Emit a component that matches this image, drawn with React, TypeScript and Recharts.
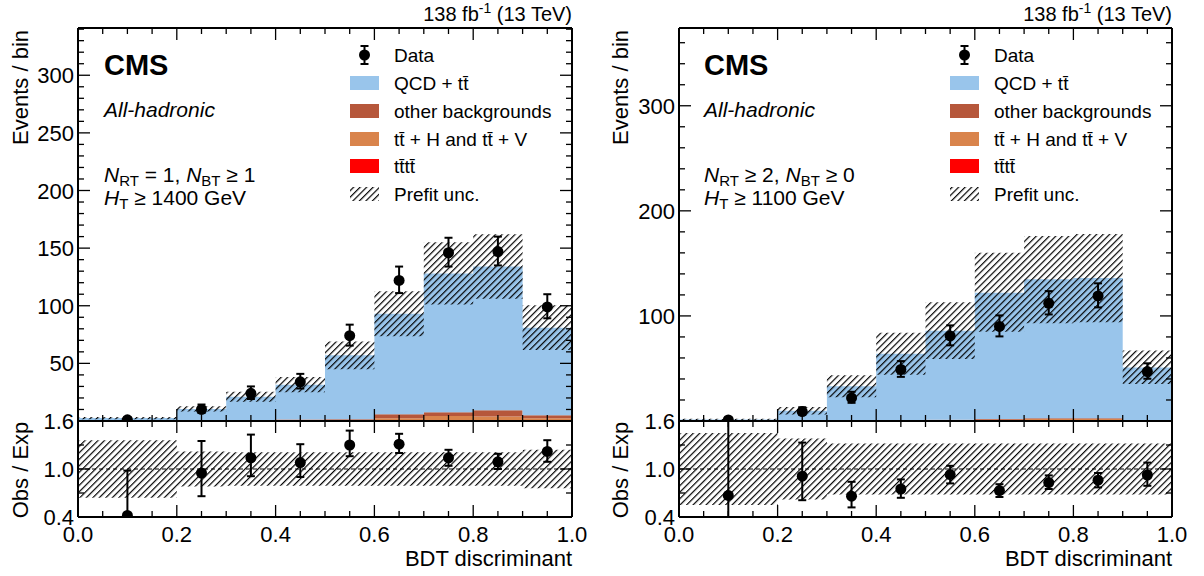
import React from 'react';
import { ComposedChart, Area, Scatter, ErrorBar, XAxis, YAxis, ReferenceLine } from 'recharts';

const FONT = '"Liberation Sans", Arial, Helvetica, sans-serif';
const C_QCD = '#99c5eb';
const C_OTHER = '#b6573b';
const C_TTHV = '#d9844c';
const C_TTTT = '#ff0000';

// ---- shared binning / ticks ----
const binEdges = [0, 0.2, 0.3, 0.4, 0.5, 0.6, 0.7, 0.8, 0.9, 1.0];
const binCenters = [0.1, 0.25, 0.35, 0.45, 0.55, 0.65, 0.75, 0.85, 0.95];
const xTicks = [0, 0.05, 0.1, 0.15, 0.2, 0.25, 0.3, 0.35, 0.4, 0.45, 0.5, 0.55, 0.6, 0.65, 0.7, 0.75, 0.8, 0.85, 0.9, 0.95, 1.0];
const xMajor = [0, 0.2, 0.4, 0.6, 0.8, 1.0];
const ratioTicks = [0.4, 0.7, 1.0, 1.3, 1.6];
const ratioMajor = [0.4, 1.0, 1.6];

// ---- left panel ----
const leftYTicks = [0, 10, 20, 30, 40, 50, 60, 70, 80, 90, 100, 110, 120, 130, 140, 150, 160, 170, 180, 190, 200, 210, 220, 230, 240, 250, 260, 270, 280, 290, 300, 310, 320, 330, 340];
const leftYMajor = [0, 50, 100, 150, 200, 250, 300];
const leftYLabels = [50, 100, 150, 200, 250, 300];
const leftYMax = 341;
const leftQcd = [2.3, 10.2, 20.4, 30.3, 55.4, 87.2, 120.5, 124.6, 76.1];
const leftOther = [0.1, 0.2, 0.3, 0.6, 0.8, 3.5, 3.2, 5.5, 2.6];
const leftTtHV = [0.1, 0.1, 0.3, 0.5, 0.6, 2.0, 4.0, 3.5, 2.0];
const leftTttt = [0, 0, 0, 0.1, 0.2, 0.3, 0.3, 0.4, 0.3];
const leftBandLo = [1.6, 8.2, 16.6, 24.9, 45.0, 73.5, 101, 106, 61.6];
const leftBandHi = [3.4, 12.8, 25.4, 38.1, 69.0, 112.5, 155, 162, 100.4];
const leftData = [1, 10, 24, 34, 74, 122, 146, 147, 99];
const leftDataErrLo = [1, 3.1, 4.9, 5.8, 8.6, 11, 12, 12, 9.9];
const leftDataErrHi = [2.3, 4.3, 6, 6.9, 9.6, 12, 13, 13, 11];
const leftRatio = [0.42, 0.95, 1.14, 1.08, 1.30, 1.31, 1.14, 1.09, 1.22];
const leftRatioLo = [0.0, 0.66, 0.91, 0.90, 1.16, 1.20, 1.04, 1.00, 1.09];
const leftRatioHi = [0.98, 1.35, 1.43, 1.31, 1.48, 1.44, 1.24, 1.19, 1.36];
const leftRatioBandLo = [0.64, 0.78, 0.79, 0.79, 0.79, 0.79, 0.79, 0.79, 0.76];
const leftRatioBandHi = [1.36, 1.22, 1.21, 1.21, 1.21, 1.21, 1.21, 1.21, 1.24];

// ---- right panel ----
const rightYTicks = [0, 20, 40, 60, 80, 100, 120, 140, 160, 180, 200, 220, 240, 260, 280, 300, 320, 340, 360];
const rightYMajor = [0, 100, 200, 300];
const rightYLabels = [100, 200, 300];
const rightYMax = 374;
const rightQcd = [1.5, 9.8, 32.8, 63.4, 84.7, 120.1, 132.4, 133.3, 50.0];
const rightOther = [0, 0, 0.1, 0.2, 0.4, 0.6, 0.8, 0.9, 0.3];
const rightTtHV = [0, 0, 0.1, 0.3, 0.7, 1.0, 1.4, 1.4, 0.5];
const rightTttt = [0, 0, 0, 0.1, 0.2, 0.3, 0.4, 0.4, 0.2];
const rightBandLo = [0.8, 6.2, 22.6, 44, 59, 85, 93, 94, 35.2];
const rightBandHi = [2.2, 13.4, 43.5, 84, 113, 160, 176, 178, 67];
const rightData = [1, 9, 22, 49, 81, 90, 112, 119, 47];
const rightDataErrLo = [1, 3, 4.7, 7, 9, 9.5, 10.6, 10.9, 6.8];
const rightDataErrHi = [2.3, 4.1, 5.8, 8, 10, 10.5, 11.6, 12, 7.9];
const rightRatio = [0.67, 0.91, 0.66, 0.75, 0.93, 0.73, 0.83, 0.86, 0.925];
const rightRatioLo = [0.0, 0.61, 0.52, 0.64, 0.82, 0.65, 0.75, 0.77, 0.79];
const rightRatioHi = [2.9, 1.33, 0.84, 0.87, 1.04, 0.81, 0.92, 0.95, 1.08];
const rightRatioBandLo = [0.55, 0.62, 0.68, 0.68, 0.68, 0.68, 0.68, 0.68, 0.68];
const rightRatioBandHi = [1.45, 1.38, 1.32, 1.32, 1.32, 1.32, 1.32, 1.32, 1.32];

// ---- layout ----
const TOP = 28;
const MAIN_H = 393;
const RATIO_H = 96;
const YW = 70;
const MT = 2;
const MR = 4;
const MB = 2;
const RMT = 14;
const RXH = 44;
const RMR = 26;
const AX = 1; // size of the "mirror" axes (top / right / main bottom)

const isIn = (arr: number[], v: number) => arr.some((a) => Math.abs(a - v) < 1e-6);

type Side = 'left' | 'right' | 'top' | 'bottom';
function tickRenderer(side: Side, majors: number[], labels: number[], fmt: (v: number) => string, margin: number) {
  return (props: any) => {
    const { x, y, payload } = props;
    const v = payload.value as number;
    const len = isIn(majors, v) ? 12 : 6;
    const show = isIn(labels, v);
    let x1 = 0, y1 = 0, x2 = 0, y2 = 0;
    let label: any = null;
    if (side === 'bottom') {
      const e = y - margin;
      x1 = x2 = x; y1 = e; y2 = e - len;
      if (show) label = <text x={x} y={e + 24.5} textAnchor="middle" fontSize={22} fontFamily={FONT} fill="#000">{fmt(v)}</text>;
    } else if (side === 'top') {
      const e = y + margin;
      x1 = x2 = x; y1 = e; y2 = e + len;
    } else if (side === 'left') {
      const e = x + margin;
      y1 = y2 = y; x1 = e; x2 = e + len;
      if (show) label = <text x={x} y={y + 8} textAnchor="end" fontSize={22} fontFamily={FONT} fill="#000">{fmt(v)}</text>;
    } else {
      const e = x - margin;
      y1 = y2 = y; x1 = e; x2 = e - len;
    }
    return (
      <g>
        <line x1={x1} y1={y1} x2={x2} y2={y2} stroke="#000" strokeWidth={1.3} />
        {label}
      </g>
    );
  };
}

const AXL = { stroke: '#000', strokeWidth: 2 };
const noLabel: number[] = [];
const fmtInt = (v: number) => String(Math.round(v));
const fmt1 = (v: number) => v.toFixed(1);

function Dot(p: any) {
  if (p.cx == null || p.cy == null) return null;
  return <circle cx={p.cx} cy={p.cy} r={5.5} fill="#000" />;
}

function Hatch({ id }: { id: string }) {
  return (
    <pattern id={id} patternUnits="userSpaceOnUse" width={4.6} height={4.6} patternTransform="rotate(45)">
      <line x1={0.6} y1={0} x2={0.6} y2={4.6} stroke="#000" strokeWidth={1.2} />
    </pattern>
  );
}

type PanelCfg = {
  id: string;
  left: number;
  pw: number;
  yMax: number;
  yTicks: number[];
  yMajor: number[];
  yLabels: number[];
  qcd: number[]; other: number[]; tthv: number[]; tttt: number[];
  bandLo: number[]; bandHi: number[];
  data: number[]; errLo: number[]; errHi: number[];
  ratio: number[]; ratioLo: number[]; ratioHi: number[];
  rbLo: number[]; rbHi: number[];
};

function Panel({ c }: { c: PanelCfg }) {
  const last = c.qcd.length - 1;
  const hist = binEdges.map((x, i) => {
    const j = Math.min(i, last);
    return { x, qcd: c.qcd[j], other: c.other[j], tthv: c.tthv[j], tttt: c.tttt[j], band: [c.bandLo[j], c.bandHi[j]] };
  });
  const points = binCenters.map((x, i) => ({ x, y: c.data[i], err: [c.errLo[i], c.errHi[i]] }));
  const rband = binEdges.map((x, i) => {
    const j = Math.min(i, last);
    return { x, band: [c.rbLo[j], c.rbHi[j]] };
  });
  const rpoints = binCenters.map((x, i) => ({
    x,
    y: c.ratio[i],
    err: [c.ratio[i] - Math.max(c.ratioLo[i], 0.4), Math.min(c.ratioHi[i], 1.6) - c.ratio[i]],
  }));
  const hid = `hatch-${c.id}`;
  const rhid = `rhatch-${c.id}`;
  return (
    <>
      <div style={{ position: 'absolute', left: c.left - YW, top: TOP - MT - AX }}>
        <ComposedChart width={YW + c.pw + AX + MR} height={MT + AX + MAIN_H + AX + MB} data={hist} margin={{ top: MT, right: MR, bottom: MB, left: 0 }}>
          <defs><Hatch id={hid} /></defs>
          <XAxis xAxisId="b" dataKey="x" type="number" domain={[0, 1]} ticks={xTicks} interval={0} orientation="bottom" height={AX} tickSize={0} tickMargin={0} tickLine={false} axisLine={AXL} tick={tickRenderer('bottom', xMajor, noLabel, fmt1, 0)} allowDataOverflow />
          <XAxis xAxisId="t" dataKey="x" type="number" domain={[0, 1]} ticks={xTicks} interval={0} orientation="top" height={AX} tickSize={0} tickMargin={0} tickLine={false} axisLine={AXL} tick={tickRenderer('top', xMajor, noLabel, fmt1, 0)} allowDataOverflow />
          <YAxis yAxisId="l" type="number" domain={[0, c.yMax]} ticks={c.yTicks} interval={0} orientation="left" width={YW} tickSize={0} tickMargin={4} tickLine={false} axisLine={AXL} tick={tickRenderer('left', c.yMajor, c.yLabels, fmtInt, 4)} allowDataOverflow />
          <YAxis yAxisId="r" type="number" domain={[0, c.yMax]} ticks={c.yTicks} interval={0} orientation="right" width={AX} tickSize={0} tickMargin={0} tickLine={false} axisLine={AXL} tick={tickRenderer('right', c.yMajor, noLabel, fmtInt, 0)} allowDataOverflow />
          <Area xAxisId="b" yAxisId="l" dataKey="tttt" stackId="s" type="stepAfter" fill={C_TTTT} fillOpacity={1} stroke="none" isAnimationActive={false} />
          <Area xAxisId="b" yAxisId="l" dataKey="tthv" stackId="s" type="stepAfter" fill={C_TTHV} fillOpacity={1} stroke="none" isAnimationActive={false} />
          <Area xAxisId="b" yAxisId="l" dataKey="other" stackId="s" type="stepAfter" fill={C_OTHER} fillOpacity={1} stroke="none" isAnimationActive={false} />
          <Area xAxisId="b" yAxisId="l" dataKey="qcd" stackId="s" type="stepAfter" fill={C_QCD} fillOpacity={1} stroke="none" isAnimationActive={false} />
          <Area xAxisId="b" yAxisId="l" dataKey="band" type="stepAfter" fill={`url(#${hid})`} fillOpacity={1} stroke="none" isAnimationActive={false} />
          <Scatter xAxisId="b" yAxisId="l" data={points} dataKey="y" shape={Dot} isAnimationActive={false}>
            <ErrorBar dataKey="err" direction="y" width={4} stroke="#000" strokeWidth={2} isAnimationActive={false} />
          </Scatter>
        </ComposedChart>
      </div>
      <div style={{ position: 'absolute', left: c.left - YW, top: TOP + MAIN_H - RMT - AX }}>
        <ComposedChart width={YW + c.pw + AX + RMR} height={RMT + AX + RATIO_H + RXH} data={rband} margin={{ top: RMT, right: RMR, bottom: 0, left: 0 }}>
          <defs><Hatch id={rhid} /></defs>
          <XAxis xAxisId="b" dataKey="x" type="number" domain={[0, 1]} ticks={xTicks} interval={0} orientation="bottom" height={RXH} tickSize={0} tickMargin={0} tickLine={false} axisLine={AXL} tick={tickRenderer('bottom', xMajor, xMajor, fmt1, 0)} allowDataOverflow />
          <XAxis xAxisId="t" dataKey="x" type="number" domain={[0, 1]} ticks={xTicks} interval={0} orientation="top" height={AX} tickSize={0} tickMargin={0} tickLine={false} axisLine={AXL} tick={tickRenderer('top', xMajor, noLabel, fmt1, 0)} allowDataOverflow />
          <YAxis yAxisId="l" type="number" domain={[0.4, 1.6]} ticks={ratioTicks} interval={0} orientation="left" width={YW} tickSize={0} tickMargin={4} tickLine={false} axisLine={AXL} tick={tickRenderer('left', ratioMajor, ratioMajor, fmt1, 4)} allowDataOverflow />
          <YAxis yAxisId="r" type="number" domain={[0.4, 1.6]} ticks={ratioTicks} interval={0} orientation="right" width={AX} tickSize={0} tickMargin={0} tickLine={false} axisLine={AXL} tick={tickRenderer('right', ratioMajor, noLabel, fmt1, 0)} allowDataOverflow />
          <Area xAxisId="b" yAxisId="l" dataKey="band" type="stepAfter" fill={`url(#${rhid})`} fillOpacity={1} stroke="none" isAnimationActive={false} />
          <ReferenceLine xAxisId="b" yAxisId="l" y={1} stroke="#000" strokeWidth={1} strokeDasharray="4 3" />
          <Scatter xAxisId="b" yAxisId="l" data={rpoints} dataKey="y" shape={Dot} isAnimationActive={false}>
            <ErrorBar dataKey="err" direction="y" width={4} stroke="#000" strokeWidth={2} isAnimationActive={false} />
          </Scatter>
        </ComposedChart>
      </div>
    </>
  );
}

const tb = 't\u0304';

function Annotations({ dx, right, nLine, htLine }: { dx: number; right: number; nLine: [string, string]; htLine: string }) {
  const lx = 350 + dx;
  const tx = 394 + dx;
  const rows = [83, 111, 139, 166];
  const cols = [C_QCD, C_OTHER, C_TTHV, C_TTTT];
  const names = [`QCD + t${tb}`, 'other backgrounds', `t${tb} + H and t${tb} + V`, `t${tb}t${tb}`];
  return (
    <g fontFamily={FONT} fill="#000">
      <text x={right} y={21} textAnchor="end" fontSize={20}>
        138 fb<tspan fontSize={14} dy={-8}>-1</tspan><tspan dy={8}> (13 TeV)</tspan>
      </text>
      <text x={104 + dx} y={75} fontSize={29} fontWeight="bold">CMS</text>
      <text x={104 + dx} y={117} fontSize={21} fontStyle="italic">All-hadronic</text>
      <text x={104 + dx} y={182} fontSize={21}>
        <tspan fontStyle="italic">N</tspan><tspan fontSize={15} dy={4}>RT</tspan><tspan dy={-4}>{` ${nLine[0]}, `}</tspan>
        <tspan fontStyle="italic">N</tspan><tspan fontSize={15} dy={4}>BT</tspan><tspan dy={-4}>{` ${nLine[1]}`}</tspan>
      </text>
      <text x={104 + dx} y={205} fontSize={21}>
        <tspan fontStyle="italic">H</tspan><tspan fontSize={15} dy={4}>T</tspan><tspan dy={-4}>{` ${htLine}`}</tspan>
      </text>
      {/* legend */}
      <line x1={lx + 14.5} x2={lx + 14.5} y1={46} y2={64} stroke="#000" strokeWidth={2} />
      <line x1={lx + 10.5} x2={lx + 18.5} y1={46} y2={46} stroke="#000" strokeWidth={2} />
      <line x1={lx + 10.5} x2={lx + 18.5} y1={64} y2={64} stroke="#000" strokeWidth={2} />
      <circle cx={lx + 14.5} cy={55} r={5.5} fill="#000" />
      <text x={tx} y={62} fontSize={19}>Data</text>
      {rows.map((ry, i) => (
        <g key={i}>
          <rect x={lx} y={ry - 7} width={29} height={14} fill={cols[i]} />
          <text x={tx} y={ry + 7} fontSize={19}>{names[i]}</text>
        </g>
      ))}
      <rect x={lx} y={187} width={29} height={14} fill="url(#legend-hatch)" />
      <text x={tx} y={201} fontSize={19}>Prefit unc.</text>
      {/* axis titles */}
      <text transform={`translate(${28 + dx},30) rotate(-90)`} textAnchor="end" fontSize={22}>Events / bin</text>
      <text transform={`translate(${28 + dx},470) rotate(-90)`} textAnchor="middle" fontSize={22}>Obs / Exp</text>
      <text x={right} y={566} textAnchor="end" fontSize={22}>BDT discriminant</text>
    </g>
  );
}

const leftCfg: PanelCfg = {
  id: 'L', left: 78, pw: 494, yMax: leftYMax, yTicks: leftYTicks, yMajor: leftYMajor, yLabels: leftYLabels,
  qcd: leftQcd, other: leftOther, tthv: leftTtHV, tttt: leftTttt, bandLo: leftBandLo, bandHi: leftBandHi,
  data: leftData, errLo: leftDataErrLo, errHi: leftDataErrHi,
  ratio: leftRatio, ratioLo: leftRatioLo, ratioHi: leftRatioHi, rbLo: leftRatioBandLo, rbHi: leftRatioBandHi,
};
const rightCfg: PanelCfg = {
  id: 'R', left: 679, pw: 493, yMax: rightYMax, yTicks: rightYTicks, yMajor: rightYMajor, yLabels: rightYLabels,
  qcd: rightQcd, other: rightOther, tthv: rightTtHV, tttt: rightTttt, bandLo: rightBandLo, bandHi: rightBandHi,
  data: rightData, errLo: rightDataErrLo, errHi: rightDataErrHi,
  ratio: rightRatio, ratioLo: rightRatioLo, ratioHi: rightRatioHi, rbLo: rightRatioBandLo, rbHi: rightRatioBandHi,
};

export default function App() {
  return (
    <div style={{ position: 'absolute', left: 0, top: 0, width: 1204, height: 576, background: '#fff', overflow: 'hidden' }}>
      <Panel c={leftCfg} />
      <Panel c={rightCfg} />
      <svg width={1204} height={576} style={{ position: 'absolute', left: 0, top: 0, pointerEvents: 'none' }}>
        <defs><Hatch id="legend-hatch" /></defs>
        <Annotations dx={0} right={572} nLine={['= 1', '\u2265 1']} htLine={'\u2265 1400 GeV'} />
        <Annotations dx={600} right={1172} nLine={['\u2265 2', '\u2265 0']} htLine={'\u2265 1100 GeV'} />
      </svg>
    </div>
  );
}
